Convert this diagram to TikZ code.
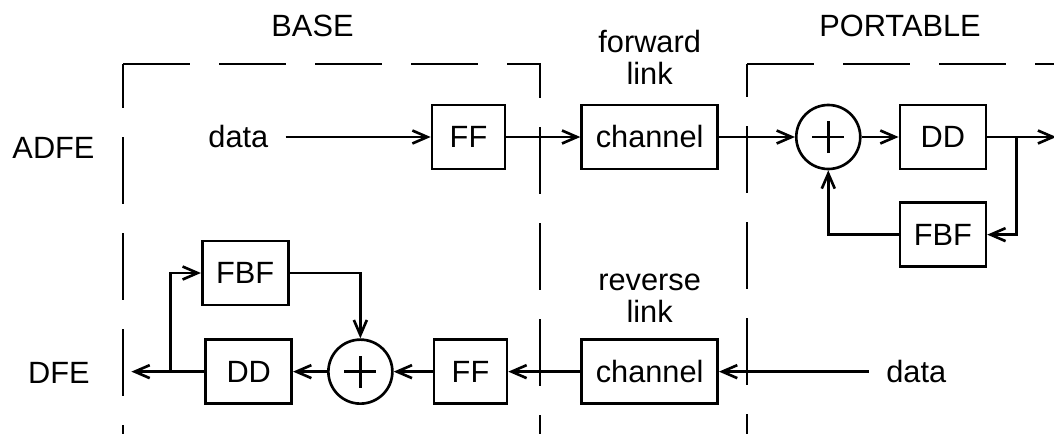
\documentclass[tikz,border=0pt]{standalone}
\usepackage{fontspec}
\setmainfont{Liberation Sans}
\usetikzlibrary{arrows.meta, positioning}
\tikzset{every node/.append style={align=center, inner sep=3pt}}

\begin{document}
\begin{tikzpicture}[
    font=\fontsize{17.5}{18.5}\selectfont,
    blk/.style={rectangle, draw, line width=1.5pt, minimum height=1.28cm, inner sep=0pt},
    sum/.style={circle, draw, line width=1.5pt, minimum size=1.28cm, inner sep=0pt},
    txt/.style={inner xsep=0.34cm},
    a/.style={-{Straight Barb[length=3mm, width=2.6mm]}, line width=1.5pt},
    ln/.style={line width=1.5pt},
    bnd/.style={line width=1.5pt, dash pattern=on 1.34cm off 0.58cm}
]
\useasboundingbox (0,0) rectangle (21.08,8.68);

% ===== REGION BORDERS =====
\draw[bnd] (2.46,7.40) -- (10.80,7.40) -- (10.80,0);
\draw[bnd, dash phase=0.46cm] (2.46,7.40) -- (2.46,0);
\draw[bnd] (14.94,7.40) -- (21.08,7.40);
\draw[bnd, dash phase=0.68cm] (14.94,7.40) -- (14.94,0);
\node (base) at (6.25,8.16) {BASE};
\node (port) at (18.0,8.16) {PORTABLE};
\node (adfe) at (1.07,5.73) {ADFE};
\node (dfe) at (1.18,1.22) {DFE};

% ===== ADFE (top) =====
\node[blk, minimum width=1.46cm] (ff1) at (9.37,5.94) {FF};
\node[txt, left=2.9cm of ff1] (dat1) {data};
\node[blk, minimum width=2.72cm, right=1.48cm of ff1] (ch1) {channel};
\node[above=0.27cm of ch1] (fwd) {forward\\link};
\node[sum, right=1.52cm of ch1] (sum1) {};
\node[blk, minimum width=1.72cm, right=0.74cm of sum1] (dd1) {DD};
\node[blk, minimum width=1.72cm, below=0.62cm of dd1] (fbf1) {FBF};
\coordinate[right=0.58cm of dd1] (br1);
\coordinate[right=0.8cm of br1] (out1);
\draw[ln] ([xshift=-0.32cm]sum1.center) -- ([xshift=0.32cm]sum1.center);
\draw[ln] ([yshift=-0.32cm]sum1.center) -- ([yshift=0.32cm]sum1.center);
\draw[a] (dat1) -- (ff1); \draw[a] (ff1) -- (ch1); \draw[a] (ch1) -- (sum1);
\draw[a] (sum1) -- (dd1); \draw[a] (dd1) -- (out1);
\draw[a] (br1) |- (fbf1); \draw[a] (fbf1) -| (sum1);

% ===== DFE (bottom) =====
\node[blk, minimum width=2.72cm, below=3.36cm of ch1] (ch2) {channel};
\node[above=0.2cm of ch2] (rev) {reverse\\link};
\node[txt, right=3.0cm of ch2] (dat2) {data};
\node[blk, minimum width=1.46cm, left=1.44cm of ch2] (ff2) {FF};
\node[sum, left=0.78cm of ff2] (sum2) {};
\node[blk, minimum width=1.72cm, left=0.68cm of sum2] (dd2) {DD};
\node[blk, minimum width=1.72cm, above=0.64cm of dd2, xshift=-0.07cm] (fbf2) {FBF};
\coordinate[left=0.68cm of dd2] (br2);
\coordinate[left=0.78cm of br2] (out2);
\draw[ln] ([xshift=-0.32cm]sum2.center) -- ([xshift=0.32cm]sum2.center);
\draw[ln] ([yshift=-0.32cm]sum2.center) -- ([yshift=0.32cm]sum2.center);
\draw[a] (dat2) -- (ch2); \draw[a] (ch2) -- (ff2); \draw[a] (ff2) -- (sum2);
\draw[a] (sum2) -- (dd2); \draw[a] (dd2) -- (out2);
\draw[a] (br2) |- (fbf2); \draw[a] (fbf2) -| (sum2);
\end{tikzpicture}
\end{document}
